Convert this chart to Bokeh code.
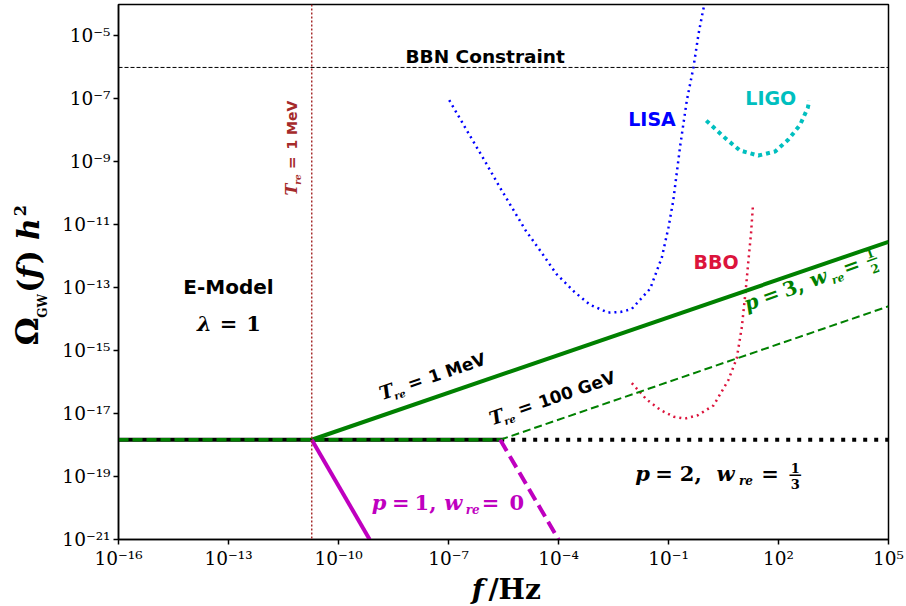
import math
from bokeh.plotting import figure
from bokeh.layouts import row, column
from bokeh.models import Range1d, FixedTicker, CustomJSTickFormatter, Label, Span
from bokeh.embed import file_html
from bokeh.resources import INLINE

# ---------------- data (log10 values) ----------------
PLATEAU = -17.83          # log10 Omega_GW h^2 on the flat part
F_1MEV = -10.73           # log10 f at T_re = 1 MeV
F_100GEV = -5.59          # log10 f at T_re = 100 GeV
BBN_LIMIT = -6.0          # log10 of BBN bound

# p = 3, w_re = 1/2 branches
p3_mev_x = [F_1MEV, 5.0]
p3_mev_y = [PLATEAU, -11.54]
p3_gev_x = [F_100GEV, 5.0]
p3_gev_y = [PLATEAU, -13.59]
# p = 1, w_re = 0 branches
p1_mev_x = [F_1MEV, -9.15]
p1_mev_y = [PLATEAU, -21.0]
p1_gev_x = [F_100GEV, -4.0]
p1_gev_y = [PLATEAU, -21.0]
# p = 2, w_re = 1/3 (flat)
p2_x = [-16.0, 5.0]
p2_y = [PLATEAU, PLATEAU]

# detector sensitivity curves
lisa_x = [-6.98, -6.71, -6.35, -5.98, -5.63, -5.26, -4.89, -4.47, -4.06, -3.56, -3.14,
          -2.65, -2.31, -2.14, -2.0, -1.5, -1.18, -1.0, -0.87, -0.68, -0.50, -0.32, -0.18, -0.06, -0.02]
lisa_y = [-7.04, -7.58, -8.30, -9.03, -9.75, -10.47, -11.19, -11.87, -12.56, -13.14, -13.54,
          -13.79, -13.77, -13.72, -13.67, -13.03, -12.03, -11.08, -10.23, -8.48, -7.05, -6.0, -4.93, -4.2, -4.0]
ligo_x = [0.03, 0.59, 0.95, 1.45, 1.91, 2.27, 2.59, 2.80, 2.84]
ligo_y = [-7.69, -8.29, -8.64, -8.80, -8.67, -8.29, -7.82, -7.28, -7.05]
bbo_x = [-2.0, -1.6, -1.2, -0.85, -0.55, -0.2, 0.23, 0.63, 0.86, 1.0, 1.11, 1.18, 1.25, 1.30]
bbo_y = [-16.03, -16.55, -16.9, -17.1, -17.16, -17.05, -16.74, -15.94, -15.25, -14.25, -13.03, -12.13, -11.29, -10.44]

x_ticks = [-16, -13, -10, -7, -4, -1, 2, 5]
y_ticks = [-21, -19, -17, -15, -13, -11, -9, -7, -5]


def pw(a):
    return [10.0 ** v for v in a]


GREEN = "#008000"
MAGENTA = "#BF00BF"
BLUE = "#0000FF"
CYAN = "#00BFBF"
CRIMSON = "#DC143C"
BROWN = "#A52A2A"
SERIF = "DejaVu Serif"
SANS = "DejaVu Sans"

YT_W = 56          # strip holding the y-axis title
XT_H = 35          # strip holding the x-axis title

p = figure(width=906 - YT_W, height=606 - XT_H, x_axis_type="log", y_axis_type="log",
           x_range=Range1d(1e-16, 1e5), y_range=Range1d(1e-21, 1e-4),
           output_backend="svg", toolbar_location=None,
           min_border_left=118 - YT_W, min_border_right=18, min_border_top=4,
           min_border_bottom=606 - XT_H - 539)
p.grid.visible = False
p.outline_line_color = "black"
p.outline_line_width = 1.5
p.outline_line_alpha = 1.0

fmt = CustomJSTickFormatter(code="""
const sup = {"-":"\u207b","0":"\u2070","1":"\u00b9","2":"\u00b2","3":"\u00b3","4":"\u2074",
             "5":"\u2075","6":"\u2076","7":"\u2077","8":"\u2078","9":"\u2079"};
const e = Math.round(Math.log10(tick)).toString();
let s = "10";
for (const c of e) { s += sup[c]; }
return s;
""")
for ax, ticks in ((p.xaxis[0], x_ticks), (p.yaxis[0], y_ticks)):
    ax.ticker = FixedTicker(ticks=pw(ticks), minor_ticks=[])
    ax.formatter = fmt
    ax.axis_line_color = "black"
    ax.axis_line_width = 1.5
    ax.major_tick_line_color = "black"
    ax.major_tick_line_width = 1.5
    ax.major_tick_out = 5
    ax.major_tick_in = 0
    ax.minor_tick_line_color = None
    ax.major_label_text_font = SERIF
    ax.major_label_text_font_size = "18.5px"
    ax.major_label_text_color = "black"
p.xaxis.major_label_standoff = 3
p.yaxis.major_label_standoff = 3

# reference lines
p.add_layout(Span(location=10 ** BBN_LIMIT, dimension="width", line_color="black",
                  line_width=1, line_dash="4 2"))
p.add_layout(Span(location=10 ** F_1MEV, dimension="height", line_color=BROWN,
                  line_width=1.5, line_dash="2 2"))

# detector curves
p.line(pw(lisa_x), pw(lisa_y), line_color=BLUE, line_width=2.5, line_dash="2 4")
p.line(pw(ligo_x), pw(ligo_y), line_color=CYAN, line_width=4, line_dash="4 4")
p.line(pw(bbo_x), pw(bbo_y), line_color=CRIMSON, line_width=2.5, line_dash="2 4")

# spectra
p.line(pw([p2_x[0], F_100GEV]), pw([PLATEAU, PLATEAU]), line_color="black", line_width=4)
p.line(pw([F_100GEV, p2_x[1]]), pw(p2_y), line_color="black", line_width=4, line_dash="4 7")
p.line(pw([p2_x[0], F_100GEV]), pw([PLATEAU, PLATEAU]), line_color=GREEN, line_width=3.5, line_dash="10 4")
p.line(pw(p3_gev_x), pw(p3_gev_y), line_color=GREEN, line_width=2, line_dash="8 4")
p.line(pw(p3_mev_x), pw(p3_mev_y), line_color=GREEN, line_width=4)
p.line(pw(p1_mev_x), pw(p1_mev_y), line_color=MAGENTA, line_width=4)
p.line(pw(p1_gev_x), pw(p1_gev_y), line_color=MAGENTA, line_width=4, line_dash="13 6")

# approximate advance widths (em) used to lay out composed labels
EM = {" ": 0.348, "=": 0.838, ",": 0.38, "p": 0.72, "w": 0.93, "r": 0.53, "e": 0.65,
      "T": 0.74, "λ": 0.70, "Ω": 0.87, "G": 0.84, "W": 1.15,
      "(": 0.47, ")": 0.47, "f": 0.45, "h": 0.76, "H": 0.94, "z": 0.6, "/": 0.37,
      "M": 0.995, "V": 0.774, "—": 1.0}
BASE_SHIFT = 0.41   # anchor sits near mid cap height; lift so anchor acts as baseline


def text_w(s, size):
    return sum(EM.get(c, 0.696) for c in s) * size


def put(fig, x, y, text, font, style, size, color, a, dx, dy, align="left"):
    dy = dy + BASE_SHIFT * size
    fig.add_layout(Label(x=x, y=y,
                         x_offset=dx * math.cos(a) - dy * math.sin(a),
                         y_offset=dx * math.sin(a) + dy * math.cos(a),
                         angle=a, text=text, text_font=font, text_font_style=style,
                         text_font_size=f"{size}px", text_color=color,
                         text_align=align, text_baseline="alphabetic"))


def rich(fig, pieces, x, y, angle_deg, color):
    """pieces: (text, font, style, size, dy, gap_before); a 'frac' entry stacks two digits."""
    a = math.radians(angle_deg)
    dx = 0.0
    for text, font, style, size, dy, gap in pieces:
        dx += gap
        if font == "frac":
            num, den = text
            w = 0.696 * size
            put(fig, x, y, num, SERIF, "bold", size, color, a, dx, 9)
            put(fig, x, y, "—", SERIF, "bold", size, color, a, dx - 0.15 * size, 2.5)
            put(fig, x, y, den, SERIF, "bold", size, color, a, dx, -7)
            dx += w
            continue
        put(fig, x, y, text, font, style, size, color, a, dx, dy)
        dx += text_w(text, size)


def tre(value, lx, ly, angle, color, s):
    rich(p, [("T", SERIF, "bold italic", s + 1, 0, 0),
             ("re", SERIF, "bold italic", round(s * 0.58), -4, -1),
             ("=", SERIF, "bold", s, 0, 5),
             (value, SANS, "bold", s - 1, 0, 7)], 10 ** lx, 10 ** ly, angle, color)


def pw_label(pv, wv, lx, ly, angle, color, s, gaps):
    last = (wv, "frac", "bold", round(s * 0.62), 0, gaps[5]) if isinstance(wv, tuple) \
        else (wv, SERIF, "bold", s, 0, gaps[5])
    rich(p, [("p", SERIF, "bold italic", s, 0, 0),
             ("=", SERIF, "bold", s, 0, gaps[0]),
             (pv + ",", SERIF, "bold", s, 0, gaps[1]),
             ("w", SERIF, "bold italic", s, 0, gaps[2]),
             ("re", SERIF, "bold italic", round(s * 0.57), -4, gaps[3]),
             ("=", SERIF, "bold", s, 0, gaps[4]),
             last], 10 ** lx, 10 ** ly, angle, color)


tre("1 MeV", -8.81, -16.60, 19, "black", 18)
tre("100 GeV", -5.81, -17.40, 19, "black", 18)
tre("1 MeV", -11.10, -10.07, 90, BROWN, 15)
pw_label("3", ("1", "2"), 1.15, -13.78, 20, GREEN, 20, (5, 5, 7, 2, 2, 9))
pw_label("1", "0", -9.09, -20.09, 0, MAGENTA, 21, (5, 5, 7, 2, 2, 10))
pw_label("2", ("1", "3"), -1.91, -19.17, 0, "black", 21, (5, 7, 14, 3, 8, 12))
rich(p, [("λ", SERIF, "bold italic", 21, 0, 0), ("=", SERIF, "bold", 21, 0, 8),
         ("1", SERIF, "bold", 21, 0, 9)], 10 ** -13.86, 10 ** -14.41, 0, "black")


def plain(text, lx, ly, color, size):
    put(p, 10 ** lx, 10 ** ly, text, SANS, "bold", size, color, 0.0, 0, 0, align="center")


plain("BBN Constraint", -6.0, -5.88, "black", 18.5)
plain("LISA", -1.45, -7.90, BLUE, 19)
plain("LIGO", 1.79, -7.21, CYAN, 19)
plain("BBO", 0.30, -12.42, CRIMSON, 19)
plain("E-Model", -13.0, -13.24, "black", 20)


def title_strip(w, h):
    f = figure(width=w, height=h, x_range=Range1d(0, w), y_range=Range1d(0, h),
               x_axis_location=None, y_axis_location=None, output_backend="svg",
               toolbar_location=None, min_border=0)
    f.grid.visible = False
    f.outline_line_color = None
    return f


# y-axis title: Omega_GW(f) h^2, read bottom to top
ytitle = title_strip(YT_W, 606)
rich(ytitle, [("Ω", SERIF, "bold", 32, 0, 0), ("GW", SERIF, "bold", 12, -7, 0),
              ("(", SERIF, "bold", 30, 0, 1), ("f", SERIF, "bold italic", 30, 0, 0),
              (")", SERIF, "bold", 30, 0, 1), ("h", SERIF, "bold italic", 30, 0, 10),
              ("2", SERIF, "bold", 16, 14, 1)], 40, 606 - 345, 90, "black")

# x-axis title: f/Hz
xtitle = title_strip(906 - YT_W, XT_H)
rich(xtitle, [("f", SERIF, "bold italic", 28, 0, 0), ("/Hz", SERIF, "bold", 28, 0, 4)],
     446 - YT_W, 6, 0, "black")

layout = row(ytitle, column(p, xtitle))
open("out.html", "w").write(file_html(layout, INLINE))
